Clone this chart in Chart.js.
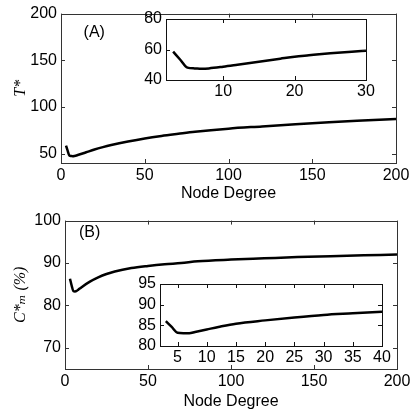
<!DOCTYPE html>
<html>
<head>
<meta charset="utf-8">
<script src="https://cdn.jsdelivr.net/npm/chart.js@4"></script>
<style>
  body { margin: 0; background: #fff; }
  #wrap { position: relative; width: 415px; height: 414px; background: #fff; }
  canvas { position: absolute; }
</style>
</head>
<body>
<div id="wrap">
  <canvas id="mainA" width="415" height="207" style="left:0;top:0"></canvas>
  <canvas id="insetA" width="280" height="105" style="left:110px;top:0"></canvas>
  <canvas id="mainB" width="415" height="207" style="left:0;top:207px"></canvas>
  <canvas id="insetB" width="300" height="105" style="left:100px;top:268px"></canvas>
</div>
<script>
// panel (A): T* against node degree
var degA = [3, 4, 5, 6, 7, 8, 10, 15, 20, 25, 30, 40, 50, 60, 70, 80, 100, 120, 140, 160, 180, 200];
var timeA = [58.5, 53, 48, 47.5, 47.3, 47.5, 48.5, 51.5, 54.5, 57, 59.2, 63, 66.3, 69, 71.3, 73.5, 76.8, 79.2, 81.6, 83.7, 85.5, 87.2];
// inset of (A), degrees 3..30
var degInA = [3, 4, 5, 6, 7, 8, 10, 12, 15, 18, 20, 22, 25, 28, 30];
var timeInA = [58.6, 53.3, 48.1, 47.6, 47.4, 47.6, 48.7, 50, 52, 54, 55.3, 56.2, 57.5, 58.6, 59.2];

// panel (B): C*m (%) against node degree
var degB = [3, 4, 5, 6, 7, 8, 10, 15, 20, 25, 30, 40, 50, 60, 70, 80, 100, 120, 140, 160, 180, 200];
var covB = [86.3, 84.7, 83.4, 83.3, 83.4, 83.7, 84.3, 85.6, 86.6, 87.4, 88.0, 88.8, 89.3, 89.7, 90.0, 90.4, 90.8, 91.1, 91.4, 91.6, 91.8, 92.0];
// inset of (B), degrees 3..40
var degInB = [3, 4, 5, 6, 7, 8, 10, 12, 15, 20, 25, 30, 35, 40];
var covInB = [86.0, 84.6, 83.2, 83.1, 83.1, 83.4, 84.0, 84.6, 85.4, 86.2, 86.9, 87.5, 87.9, 88.3];

// tick labels
var xTicksMain = [0, 50, 100, 150, 200];
var yTicksA = [50, 100, 150, 200];
var xTicksInA = [10, 20, 30];
var yTicksInA = [40, 60, 80];
var yTicksB = [70, 80, 90, 100];
var xTicksInB = [5, 10, 15, 20, 25, 30, 35, 40];
var yTicksInB = [80, 85, 90, 95];

Chart.defaults.color = '#000';
Chart.defaults.font.family = "'Liberation Sans', Arial, sans-serif";
Chart.defaults.font.size = 16;
Chart.defaults.animation = false;

// matlab style box with inward ticks on all four sides
var framePlugin = {
    id: 'frame',
    beforeDatasetsDraw: function(chart, args, opts) {
        if (!opts.fill) return;
        var a = chart.chartArea;
        chart.ctx.save();
        chart.ctx.fillStyle = '#fff';
        chart.ctx.fillRect(a.left, a.top, a.right - a.left, a.bottom - a.top);
        chart.ctx.restore();
    },
    afterDatasetsDraw: function(chart, args, opts) {
        var ctx = chart.ctx, a = chart.chartArea;
        var x = chart.scales.x, y = chart.scales.y;
        var len = opts.tick || 4;
        ctx.save();
        ctx.strokeStyle = opts.color || '#222';
        ctx.lineWidth = 1;
        ctx.beginPath();
        x.ticks.forEach(function(t) {
            var px = Math.round(x.getPixelForValue(t.value)) + 0.5;
            ctx.moveTo(px, a.bottom); ctx.lineTo(px, a.bottom - len);
            ctx.moveTo(px, a.top); ctx.lineTo(px, a.top + len);
        });
        y.ticks.forEach(function(t) {
            var py = Math.round(y.getPixelForValue(t.value)) + 0.5;
            ctx.moveTo(a.left, py); ctx.lineTo(a.left + len, py);
            ctx.moveTo(a.right, py); ctx.lineTo(a.right - len, py);
        });
        ctx.stroke();
        ctx.strokeRect(Math.round(a.left) + 0.5, Math.round(a.top) + 0.5,
            Math.round(a.right - a.left), Math.round(a.bottom - a.top));
        if (opts.tag) {
            ctx.fillStyle = '#000';
            ctx.font = "16px 'Liberation Sans', Arial, sans-serif";
            ctx.textBaseline = 'middle';
            ctx.fillText(opts.tag, x.getPixelForValue(opts.tagX), y.getPixelForValue(opts.tagY));
        }
        ctx.restore();
    }
};

function fixTicks(list) {
    return function(scale) {
        scale.ticks = list.map(function(v) { return { value: v }; });
    };
}

function makeChart(id, xs, ys, o) {
    var pts = xs.map(function(v, i) { return { x: v, y: ys[i] }; });
    return new Chart(document.getElementById(id), {
        type: 'line',
        data: {
            datasets: [{
                data: pts,
                borderColor: '#000',
                borderWidth: 2.5,
                pointRadius: 0,
                cubicInterpolationMode: 'monotone',
                fill: false
            }]
        },
        options: {
            responsive: false,
            devicePixelRatio: 1,
            layout: { padding: { top: o.top, right: o.right, left: 0, bottom: 0 } },
            plugins: {
                legend: { display: false },
                tooltip: { enabled: false },
                frame: o.frame
            },
            scales: {
                x: {
                    type: 'linear',
                    min: o.xMin, max: o.xMax,
                    afterBuildTicks: fixTicks(o.xTicks),
                    afterFit: function(s) { s.height = o.xH; },
                    grid: { display: false, drawTicks: false },
                    border: { display: false },
                    ticks: { padding: o.xPad, maxRotation: 0, autoSkip: false },
                    title: o.xTitle ? {
                        display: true, text: o.xTitle, color: '#000',
                        font: { size: 16 }, padding: { top: 0, bottom: o.xTitlePad }
                    } : { display: false }
                },
                y: {
                    type: 'linear',
                    min: o.yMin, max: o.yMax,
                    afterBuildTicks: fixTicks(o.yTicks),
                    afterFit: function(s) { s.width = o.yW; },
                    grid: { display: false, drawTicks: false },
                    border: { display: false },
                    ticks: { padding: 4, autoSkip: false },
                    title: o.yTitle ? {
                        display: true, text: o.yTitle, color: '#000',
                        font: { family: "'Liberation Serif', 'DejaVu Serif', serif", size: 16, style: 'italic' },
                        padding: { top: o.yTitlePad, bottom: 0 }
                    } : { display: false }
                }
            }
        },
        plugins: [framePlugin]
    });
}

makeChart('mainA', degA, timeA, {
    top: 13, right: 19, xH: 44, yW: 61, xPad: 3,
    xMin: 0, xMax: 200, yMin: 40, yMax: 200,
    xTicks: xTicksMain, yTicks: yTicksA,
    xTitle: 'Node Degree', xTitlePad: 4, yTitle: 'T*', yTitlePad: 11,
    frame: { color: '#333', tag: '(A)', tagX: 13.5, tagY: 180 }
});

makeChart('insetA', degInA, timeInA, {
    top: 19, right: 24, xH: 25, yW: 56, xPad: 2,
    xMin: 2, xMax: 30, yMin: 40, yMax: 80,
    xTicks: xTicksInA, yTicks: yTicksInA,
    frame: { color: '#111', fill: true }
});

makeChart('mainB', degB, covB, {
    top: 12, right: 18, xH: 45, yW: 65, xPad: 3,
    xMin: 0, xMax: 200, yMin: 65, yMax: 100,
    xTicks: xTicksMain, yTicks: yTicksB,
    xTitle: 'Node Degree', xTitlePad: 3, yTitle: 'C*\u2098 (%)', yTitlePad: 11,
    frame: { color: '#333', tag: '(B)', tagX: 8.4, tagY: 97.2 }
});

makeChart('insetB', degInB, covInB, {
    top: 16, right: 18, xH: 27, yW: 60, xPad: 2,
    xMin: 2, xMax: 40, yMin: 80, yMax: 95,
    xTicks: xTicksInB, yTicks: yTicksInB,
    frame: { color: '#111', fill: true }
});
</script>
</body>
</html>
